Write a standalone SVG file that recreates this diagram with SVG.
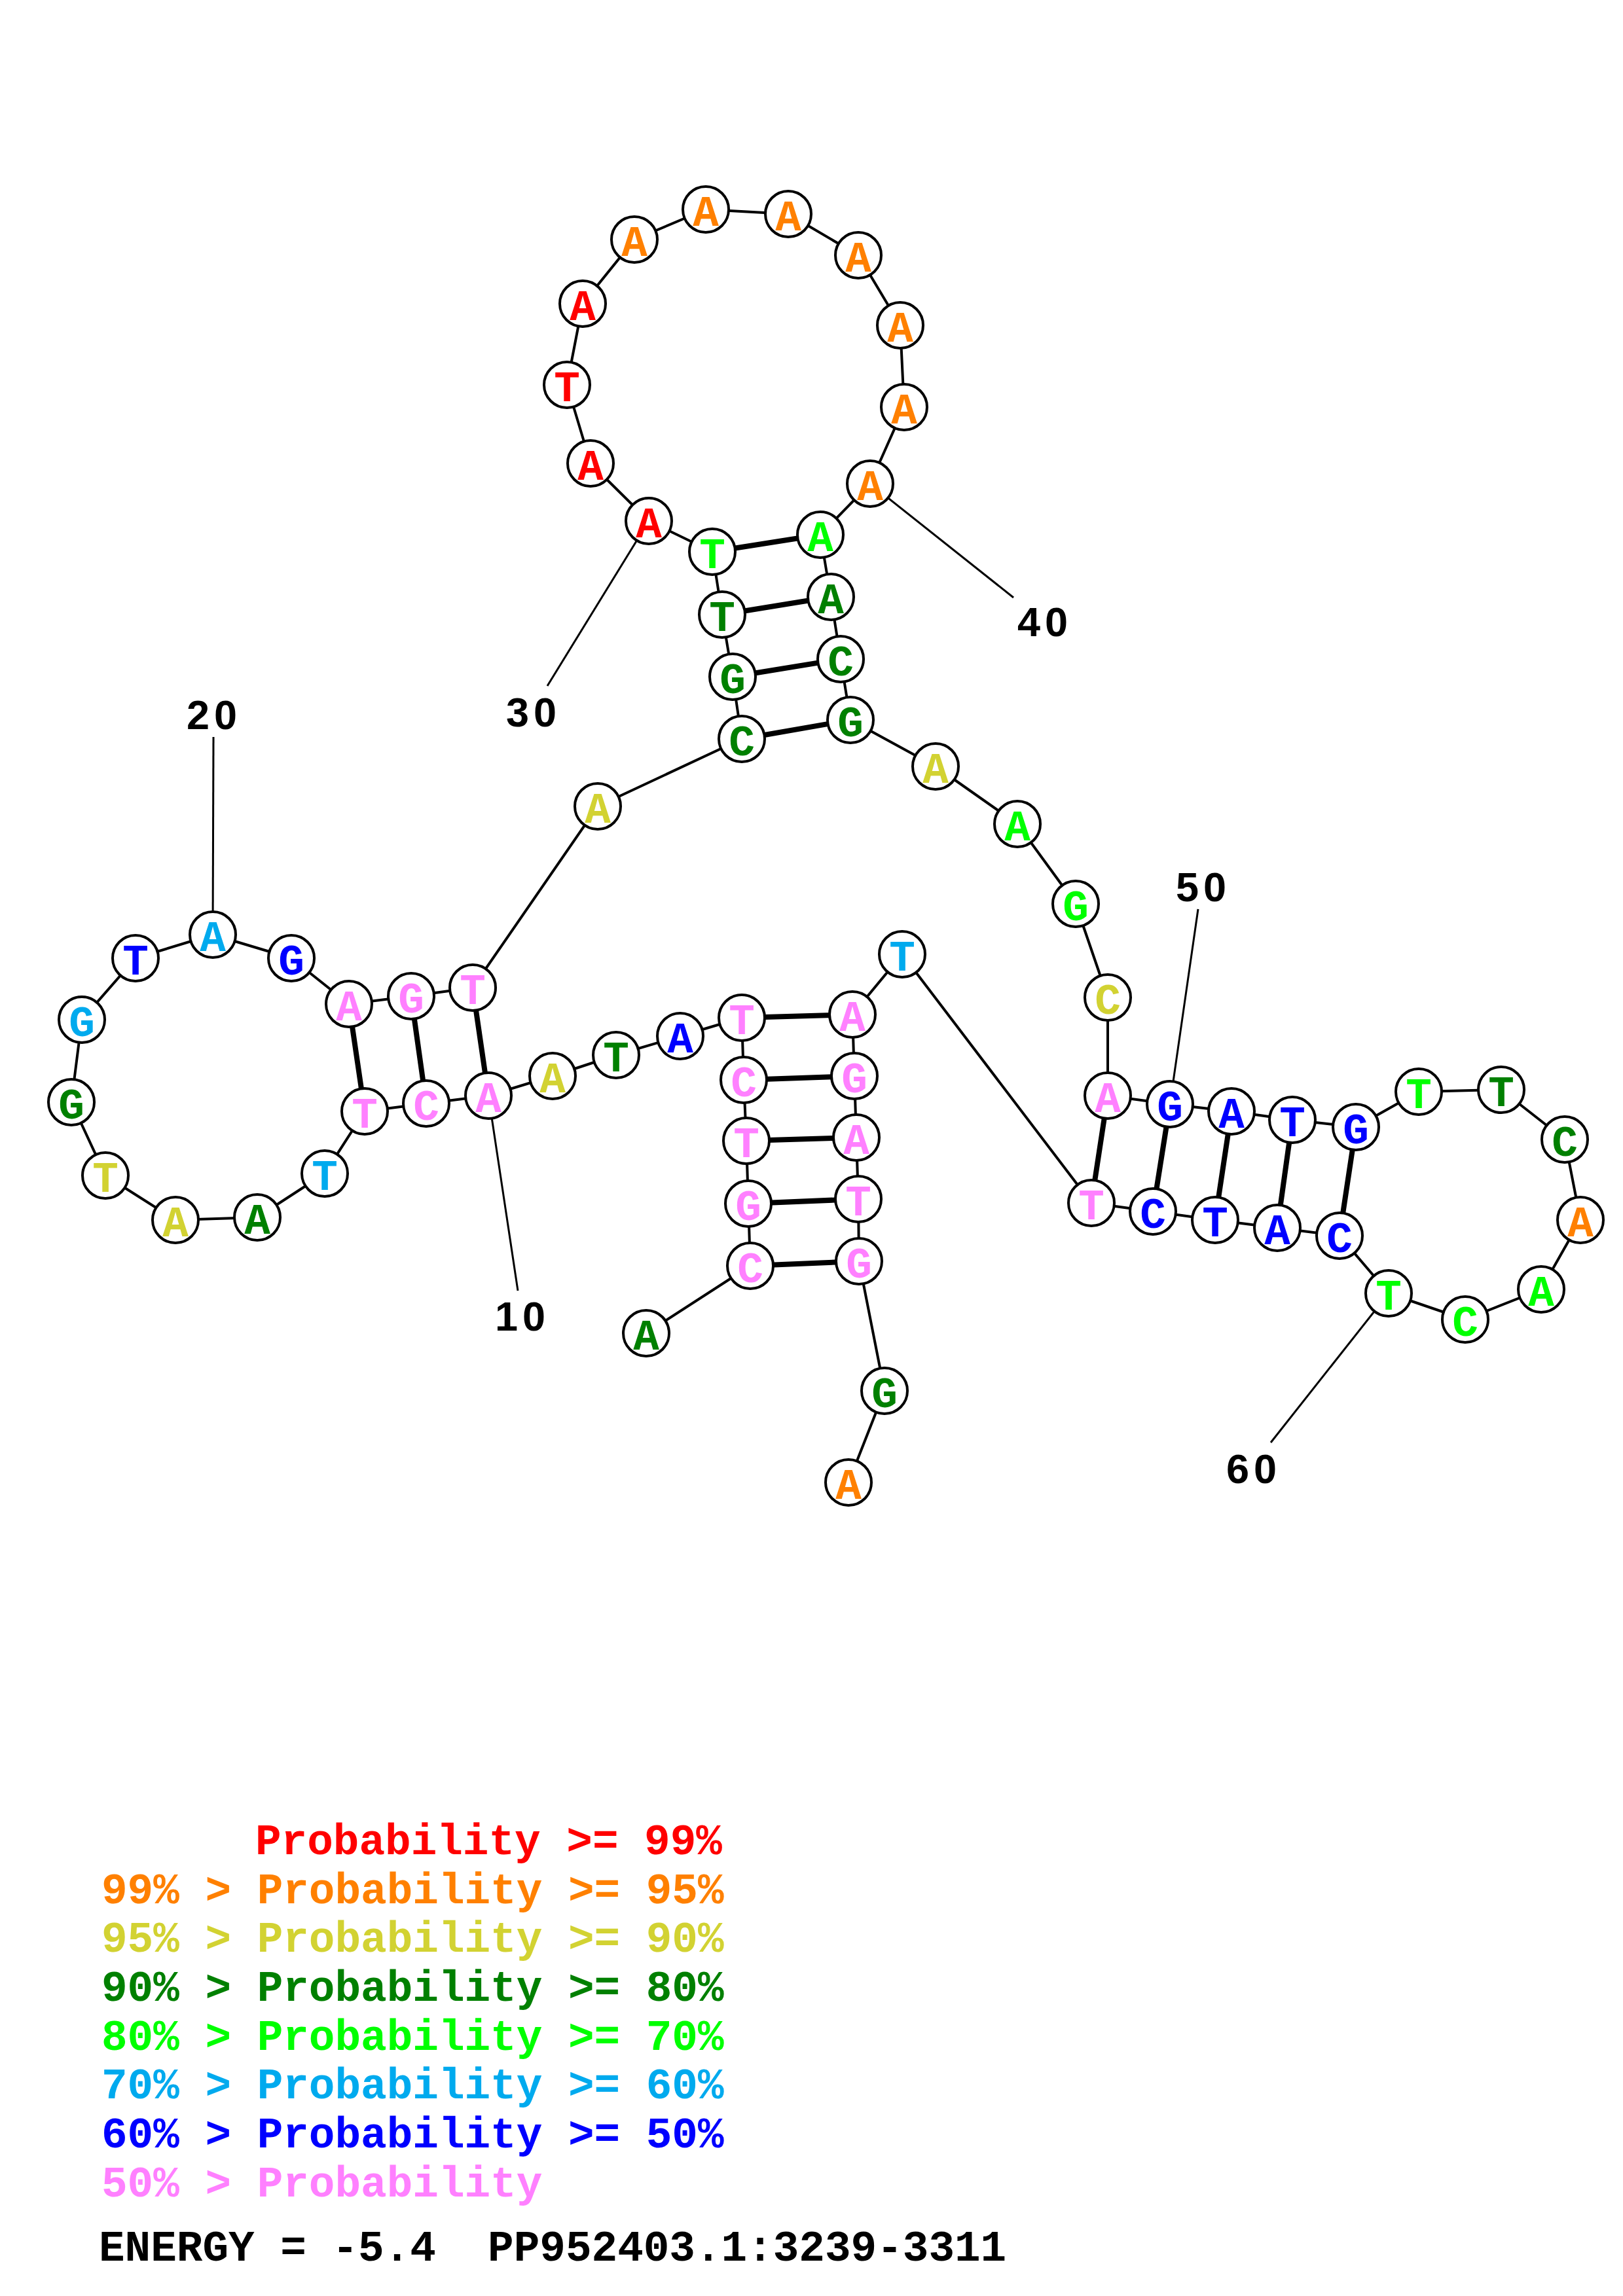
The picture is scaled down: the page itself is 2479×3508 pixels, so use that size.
<svg xmlns="http://www.w3.org/2000/svg" width="2479" height="3508" viewBox="0 0 2479 3508">
<style>
.bb{fill:none;stroke:#000;stroke-width:4;stroke-linejoin:round}
.pr{stroke:#000;stroke-width:8}
.ll{stroke:#000;stroke-width:3}
.nd circle{fill:#fff;stroke:#000;stroke-width:4}
.nd text{font-family:"Liberation Mono",monospace;font-weight:bold;font-size:66px;text-anchor:middle}
.lab{font-family:"Liberation Sans",sans-serif;font-weight:bold;font-size:63px;text-anchor:middle;letter-spacing:7px;fill:#000}
.leg{font-family:"Liberation Mono",monospace;font-weight:bold;font-size:66px;white-space:pre}
.r{fill:#FF0000}.o{fill:#FF8000}.y{fill:#D2D232}.dg{fill:#008000}.g{fill:#00FF00}.lb{fill:#00AAEE}.b{fill:#0000FF}.p{fill:#FF80FF}
</style>
<rect width="2479" height="3508" fill="#fff"/>
<g id="connectors">
<polyline class="bb" points="987,2037 1146,1934 1143,1839 1140,1743 1136,1650 1133,1555 1039,1583 941,1612 844,1644 746,1674 651,1686 557,1698 496,1793 393,1860 268,1864 161,1796 109,1684 125,1558 207,1464 325,1428 445,1464 533,1534 628,1522 722,1509 913,1232 1133,1129 1119,1034 1103,939 1088,843 991,796 902,708 866,588 890,464 969,366 1078,320 1204,327 1311,390 1375,497 1381,622 1329,739 1253,817 1269,912 1284,1007 1299,1100 1429,1171 1554,1259 1643,1381 1692,1524 1692,1674 1787,1687 1881,1698 1974,1711 2071,1722 2167,1668 2293,1665 2390,1741 2414,1864 2354,1970 2238,2016 2121,1976 2046,1888 1951,1876 1856,1864 1761,1851 1667,1838 1378,1458 1302,1550 1305,1644 1308,1738 1311,1832 1312,1927 1351,2125 1296,2265"/>
<line class="pr" x1="1146" y1="1934" x2="1312" y2="1927"/>
<line class="pr" x1="1143" y1="1839" x2="1311" y2="1832"/>
<line class="pr" x1="1140" y1="1743" x2="1308" y2="1738"/>
<line class="pr" x1="1136" y1="1650" x2="1305" y2="1644"/>
<line class="pr" x1="1133" y1="1555" x2="1302" y2="1550"/>
<line class="pr" x1="746" y1="1674" x2="722" y2="1509"/>
<line class="pr" x1="651" y1="1686" x2="628" y2="1522"/>
<line class="pr" x1="557" y1="1698" x2="533" y2="1534"/>
<line class="pr" x1="1133" y1="1129" x2="1299" y2="1100"/>
<line class="pr" x1="1119" y1="1034" x2="1284" y2="1007"/>
<line class="pr" x1="1103" y1="939" x2="1269" y2="912"/>
<line class="pr" x1="1088" y1="843" x2="1253" y2="817"/>
<line class="pr" x1="1692" y1="1674" x2="1667" y2="1838"/>
<line class="pr" x1="1787" y1="1687" x2="1761" y2="1851"/>
<line class="pr" x1="1881" y1="1698" x2="1856" y2="1864"/>
<line class="pr" x1="1974" y1="1711" x2="1951" y2="1876"/>
<line class="pr" x1="2071" y1="1722" x2="2046" y2="1888"/>
<line class="ll" x1="746" y1="1674" x2="791" y2="1972"/>
<line class="ll" x1="325" y1="1428" x2="326" y2="1126"/>
<line class="ll" x1="991" y1="796" x2="836" y2="1048"/>
<line class="ll" x1="1329" y1="739" x2="1548" y2="913"/>
<line class="ll" x1="1787" y1="1687" x2="1830" y2="1389"/>
<line class="ll" x1="2121" y1="1976" x2="1941" y2="2204"/>
</g>
<g id="nodes" class="nd">
<g id="n1"><circle cx="987" cy="2037" r="35"/><text x="987" y="2062" class="dg">A</text></g>
<g id="n2"><circle cx="1146" cy="1934" r="35"/><text x="1146" y="1959" class="p">C</text></g>
<g id="n3"><circle cx="1143" cy="1839" r="35"/><text x="1143" y="1864" class="p">G</text></g>
<g id="n4"><circle cx="1140" cy="1743" r="35"/><text x="1140" y="1768" class="p">T</text></g>
<g id="n5"><circle cx="1136" cy="1650" r="35"/><text x="1136" y="1675" class="p">C</text></g>
<g id="n6"><circle cx="1133" cy="1555" r="35"/><text x="1133" y="1580" class="p">T</text></g>
<g id="n7"><circle cx="1039" cy="1583" r="35"/><text x="1039" y="1608" class="b">A</text></g>
<g id="n8"><circle cx="941" cy="1612" r="35"/><text x="941" y="1637" class="dg">T</text></g>
<g id="n9"><circle cx="844" cy="1644" r="35"/><text x="844" y="1669" class="y">A</text></g>
<g id="n10"><circle cx="746" cy="1674" r="35"/><text x="746" y="1699" class="p">A</text></g>
<g id="n11"><circle cx="651" cy="1686" r="35"/><text x="651" y="1711" class="p">C</text></g>
<g id="n12"><circle cx="557" cy="1698" r="35"/><text x="557" y="1723" class="p">T</text></g>
<g id="n13"><circle cx="496" cy="1793" r="35"/><text x="496" y="1818" class="lb">T</text></g>
<g id="n14"><circle cx="393" cy="1860" r="35"/><text x="393" y="1885" class="dg">A</text></g>
<g id="n15"><circle cx="268" cy="1864" r="35"/><text x="268" y="1889" class="y">A</text></g>
<g id="n16"><circle cx="161" cy="1796" r="35"/><text x="161" y="1821" class="y">T</text></g>
<g id="n17"><circle cx="109" cy="1684" r="35"/><text x="109" y="1709" class="dg">G</text></g>
<g id="n18"><circle cx="125" cy="1558" r="35"/><text x="125" y="1583" class="lb">G</text></g>
<g id="n19"><circle cx="207" cy="1464" r="35"/><text x="207" y="1489" class="b">T</text></g>
<g id="n20"><circle cx="325" cy="1428" r="35"/><text x="325" y="1453" class="lb">A</text></g>
<g id="n21"><circle cx="445" cy="1464" r="35"/><text x="445" y="1489" class="b">G</text></g>
<g id="n22"><circle cx="533" cy="1534" r="35"/><text x="533" y="1559" class="p">A</text></g>
<g id="n23"><circle cx="628" cy="1522" r="35"/><text x="628" y="1547" class="p">G</text></g>
<g id="n24"><circle cx="722" cy="1509" r="35"/><text x="722" y="1534" class="p">T</text></g>
<g id="n25"><circle cx="913" cy="1232" r="35"/><text x="913" y="1257" class="y">A</text></g>
<g id="n26"><circle cx="1133" cy="1129" r="35"/><text x="1133" y="1154" class="dg">C</text></g>
<g id="n27"><circle cx="1119" cy="1034" r="35"/><text x="1119" y="1059" class="dg">G</text></g>
<g id="n28"><circle cx="1103" cy="939" r="35"/><text x="1103" y="964" class="dg">T</text></g>
<g id="n29"><circle cx="1088" cy="843" r="35"/><text x="1088" y="868" class="g">T</text></g>
<g id="n30"><circle cx="991" cy="796" r="35"/><text x="991" y="821" class="r">A</text></g>
<g id="n31"><circle cx="902" cy="708" r="35"/><text x="902" y="733" class="r">A</text></g>
<g id="n32"><circle cx="866" cy="588" r="35"/><text x="866" y="613" class="r">T</text></g>
<g id="n33"><circle cx="890" cy="464" r="35"/><text x="890" y="489" class="r">A</text></g>
<g id="n34"><circle cx="969" cy="366" r="35"/><text x="969" y="391" class="o">A</text></g>
<g id="n35"><circle cx="1078" cy="320" r="35"/><text x="1078" y="345" class="o">A</text></g>
<g id="n36"><circle cx="1204" cy="327" r="35"/><text x="1204" y="352" class="o">A</text></g>
<g id="n37"><circle cx="1311" cy="390" r="35"/><text x="1311" y="415" class="o">A</text></g>
<g id="n38"><circle cx="1375" cy="497" r="35"/><text x="1375" y="522" class="o">A</text></g>
<g id="n39"><circle cx="1381" cy="622" r="35"/><text x="1381" y="647" class="o">A</text></g>
<g id="n40"><circle cx="1329" cy="739" r="35"/><text x="1329" y="764" class="o">A</text></g>
<g id="n41"><circle cx="1253" cy="817" r="35"/><text x="1253" y="842" class="g">A</text></g>
<g id="n42"><circle cx="1269" cy="912" r="35"/><text x="1269" y="937" class="dg">A</text></g>
<g id="n43"><circle cx="1284" cy="1007" r="35"/><text x="1284" y="1032" class="dg">C</text></g>
<g id="n44"><circle cx="1299" cy="1100" r="35"/><text x="1299" y="1125" class="dg">G</text></g>
<g id="n45"><circle cx="1429" cy="1171" r="35"/><text x="1429" y="1196" class="y">A</text></g>
<g id="n46"><circle cx="1554" cy="1259" r="35"/><text x="1554" y="1284" class="g">A</text></g>
<g id="n47"><circle cx="1643" cy="1381" r="35"/><text x="1643" y="1406" class="g">G</text></g>
<g id="n48"><circle cx="1692" cy="1524" r="35"/><text x="1692" y="1549" class="y">C</text></g>
<g id="n49"><circle cx="1692" cy="1674" r="35"/><text x="1692" y="1699" class="p">A</text></g>
<g id="n50"><circle cx="1787" cy="1687" r="35"/><text x="1787" y="1712" class="b">G</text></g>
<g id="n51"><circle cx="1881" cy="1698" r="35"/><text x="1881" y="1723" class="b">A</text></g>
<g id="n52"><circle cx="1974" cy="1711" r="35"/><text x="1974" y="1736" class="b">T</text></g>
<g id="n53"><circle cx="2071" cy="1722" r="35"/><text x="2071" y="1747" class="b">G</text></g>
<g id="n54"><circle cx="2167" cy="1668" r="35"/><text x="2167" y="1693" class="g">T</text></g>
<g id="n55"><circle cx="2293" cy="1665" r="35"/><text x="2293" y="1690" class="dg">T</text></g>
<g id="n56"><circle cx="2390" cy="1741" r="35"/><text x="2390" y="1766" class="dg">C</text></g>
<g id="n57"><circle cx="2414" cy="1864" r="35"/><text x="2414" y="1889" class="o">A</text></g>
<g id="n58"><circle cx="2354" cy="1970" r="35"/><text x="2354" y="1995" class="g">A</text></g>
<g id="n59"><circle cx="2238" cy="2016" r="35"/><text x="2238" y="2041" class="g">C</text></g>
<g id="n60"><circle cx="2121" cy="1976" r="35"/><text x="2121" y="2001" class="g">T</text></g>
<g id="n61"><circle cx="2046" cy="1888" r="35"/><text x="2046" y="1913" class="b">C</text></g>
<g id="n62"><circle cx="1951" cy="1876" r="35"/><text x="1951" y="1901" class="b">A</text></g>
<g id="n63"><circle cx="1856" cy="1864" r="35"/><text x="1856" y="1889" class="b">T</text></g>
<g id="n64"><circle cx="1761" cy="1851" r="35"/><text x="1761" y="1876" class="b">C</text></g>
<g id="n65"><circle cx="1667" cy="1838" r="35"/><text x="1667" y="1863" class="p">T</text></g>
<g id="n66"><circle cx="1378" cy="1458" r="35"/><text x="1378" y="1483" class="lb">T</text></g>
<g id="n67"><circle cx="1302" cy="1550" r="35"/><text x="1302" y="1575" class="p">A</text></g>
<g id="n68"><circle cx="1305" cy="1644" r="35"/><text x="1305" y="1669" class="p">G</text></g>
<g id="n69"><circle cx="1308" cy="1738" r="35"/><text x="1308" y="1763" class="p">A</text></g>
<g id="n70"><circle cx="1311" cy="1832" r="35"/><text x="1311" y="1857" class="p">T</text></g>
<g id="n71"><circle cx="1312" cy="1927" r="35"/><text x="1312" y="1952" class="p">G</text></g>
<g id="n72"><circle cx="1351" cy="2125" r="35"/><text x="1351" y="2150" class="dg">G</text></g>
<g id="n73"><circle cx="1296" cy="2265" r="35"/><text x="1296" y="2290" class="o">A</text></g>
</g>
<g id="labels">
<text class="lab" x="798" y="2033">10</text>
<text class="lab" x="327" y="1114">20</text>
<text class="lab" x="815" y="1110">30</text>
<text class="lab" x="1596" y="972">40</text>
<text class="lab" x="1838" y="1377">50</text>
<text class="lab" x="1915" y="2266">60</text>
</g>
<g id="legend" class="leg">
<text x="390" y="2833" class="r">Probability &gt;= 99%</text>
<text x="155" y="2908" class="o">99% &gt; Probability &gt;= 95%</text>
<text x="155" y="2982" class="y">95% &gt; Probability &gt;= 90%</text>
<text x="155" y="3057" class="dg">90% &gt; Probability &gt;= 80%</text>
<text x="155" y="3132" class="g">80% &gt; Probability &gt;= 70%</text>
<text x="155" y="3206" class="lb">70% &gt; Probability &gt;= 60%</text>
<text x="155" y="3281" class="b">60% &gt; Probability &gt;= 50%</text>
<text x="155" y="3356" class="p">50% &gt; Probability</text>
<text x="151" y="3454" fill="#000" xml:space="preserve">ENERGY = -5.4  PP952403.1:3239-3311</text>
</g>
</svg>
